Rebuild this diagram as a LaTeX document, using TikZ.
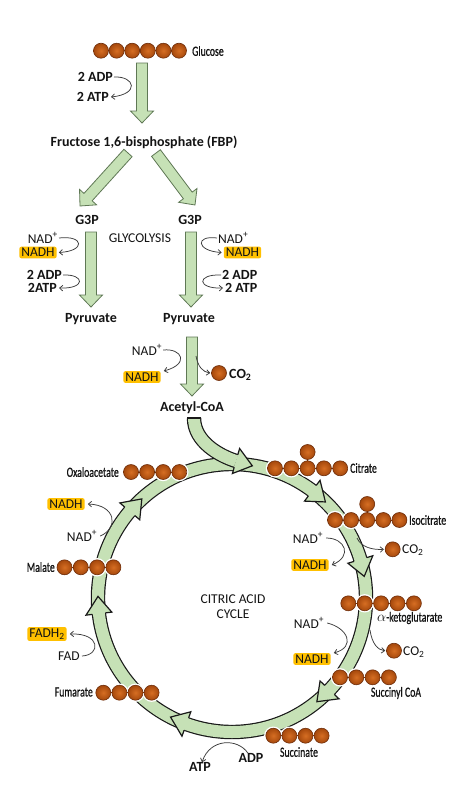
\documentclass[tikz,border=0pt]{standalone}
\usepackage{fontspec}
\setmainfont{Carlito}
\newfontfamily\condfont[FakeStretch=0.7,FakeBold=0.8]{Carlito}
\usetikzlibrary{calc,arrows.meta}
\definecolor{arrfill}{RGB}{198,225,182}
\definecolor{arrline}{RGB}{95,120,85}
\definecolor{ringline}{RGB}{25,25,25}
\definecolor{molin}{RGB}{214,110,35}
\definecolor{molout}{RGB}{165,72,12}
\definecolor{molline}{RGB}{110,45,10}
\definecolor{nadhfill}{RGB}{255,192,0}
\definecolor{txt}{RGB}{20,20,20}
\definecolor{thincol}{RGB}{60,60,60}
\newcommand\blkarrow[2]{%
  \coordinate (bah) at ($(#2)!12pt!(#1)$);
  \filldraw[blockarr] ($(#1)!5.5pt!90:(#2)$) -- ($(bah)!5.5pt!90:(#2)$) -- ($(bah)!11.5pt!90:(#2)$) -- (#2) -- ($(bah)!11.5pt!-90:(#2)$) -- ($(bah)!5.5pt!-90:(#2)$) -- ($(#1)!5.5pt!-90:(#2)$) -- cycle;}
\newcommand\ringhead[1]{%
  \fill[arrfill] ({#1+3.7}:121pt) -- ({#1+3.7}:147pt) -- ({#1-3.7}:134pt) -- cycle;
  \draw[ringedge] ({#1+3.7}:127.4pt) -- ({#1+3.7}:121pt) -- ({#1-3.7}:134pt) -- ({#1+3.7}:147pt) -- ({#1+3.7}:140.6pt);}
\newcommand\halorow[4]{\foreach \i in {1,...,#3}{\fill[white] ({#1+(\i-1)*#4},#2) circle (9.2);}}
\newcommand\ballrow[5]{%
  \draw[bond] (#2,#3) -- ({#2+(#4-1)*#5},#3);
  \foreach \i in {1,...,#4}{\node[ball] (#1-\i) at ({#2+(\i-1)*#5},#3) {};}}
\begin{document}
\begin{tikzpicture}[x=1pt,y=-1pt,
  blockarr/.style={fill=arrfill, draw=arrline, line width=0.8pt, line join=miter},
  ringband/.style={draw=ringline, line width=1.2pt, double=arrfill, double distance=12pt},
  ringedge/.style={draw=ringline, line width=1.2pt, line join=miter},
  bond/.style={draw=molline, line width=1pt},
  ball/.style={circle, minimum size=15pt, inner sep=0pt, draw=molline, line width=0.6pt, inner color=molin, outer color=molout},
  lbl/.style={inner sep=0pt, font=\fontsize{14}{16}\selectfont\bfseries, text=txt},
  reg/.style={inner sep=0pt, font=\fontsize{13.5}{15}\selectfont, text=txt},
  molname/.style={inner sep=0pt, font=\condfont\fontsize{14}{16}\selectfont, text=txt},
  hl/.style={fill=nadhfill, rounded corners=2pt, inner xsep=2pt, inner ysep=1.5pt, font=\fontsize{13.5}{15}\selectfont, text=txt},
  thinarr/.style={draw=thincol, line width=0.75pt, -{Straight Barb[length=3.2pt,width=5.5pt]}}]
\useasboundingbox (0,0) rectangle (474,798);
\fill[white] (0,0) rectangle (474,798);

% ---------- glycolysis block arrows
\coordinate (a1s) at (142,63);  \coordinate (a1e) at (142,123);
\coordinate (a2s) at (128,153); \coordinate (a2e) at (80,206);
\coordinate (a3s) at (156,153); \coordinate (a3e) at (195,205);
\coordinate (a4s) at (91,232);  \coordinate (a4e) at (91,307);
\coordinate (a5s) at (191,232); \coordinate (a5e) at (191,307);
\coordinate (a6s) at (192,337); \coordinate (a6e) at (192,396);
\blkarrow{a1s}{a1e}
\blkarrow{a2s}{a2e}
\blkarrow{a3s}{a3e}
\blkarrow{a4s}{a4e}
\blkarrow{a5s}{a5e}
\blkarrow{a6s}{a6e}

% ---------- citric acid cycle ring
\begin{scope}[shift={(232,598)}]
  \draw[ringband] (0,0) circle (134);
\end{scope}
% acetyl-CoA entry arrow
\coordinate (acs) at (194,418);
\coordinate (ach) at (236,461);
\draw[ringband] (acs) .. controls (194,442) and (220,456) .. (ach);
\draw[ringedge] (187.4,418) -- (200.6,418);
\fill[arrfill] (239.6,448.5) -- (252.3,465.8) -- (232.4,473.5) -- cycle;
\draw[ringedge] (237.8,454.7) -- (239.6,448.5) -- (252.3,465.8) -- (232.4,473.5) -- (234.2,467.3);
\begin{scope}[shift={(232,598)}]
  \ringhead{49.5}
  \ringhead{13}
  \ringhead{-47}
  \ringhead{-113.6}
  \ringhead{-177}
  \ringhead{136}
\end{scope}

% ---------- molecules
\halorow{101}{50.7}{6}{15.6}
\ballrow{glc}{101}{50.7}{6}{15.6}
\halorow{131}{472}{4}{16.1}
\ballrow{oxa}{131}{472}{4}{16.1}
\halorow{275}{468.3}{5}{16.3}
\fill[white] (307.6,452) circle (9.2);
\draw[bond] (307.6,452) -- (307.6,468.3);
\ballrow{cit}{275}{468.3}{5}{16.3}
\node[ball] (cit-top) at (307.6,452) {};
\halorow{335}{520}{5}{16.1}
\fill[white] (367.2,504) circle (9.2);
\draw[bond] (367.2,504) -- (367.2,520);
\ballrow{iso}{335}{520}{5}{16.1}
\node[ball] (iso-top) at (367.2,504) {};
\halorow{348.3}{603.3}{5}{16.4}
\ballrow{akg}{348.3}{603.3}{5}{16.4}
\halorow{340}{677.3}{4}{16.3}
\ballrow{scoa}{340}{677.3}{4}{16.3}
\halorow{273.3}{735.7}{4}{16.1}
\ballrow{suc}{273.3}{735.7}{4}{16.1}
\halorow{103.3}{692.7}{4}{16.1}
\ballrow{fum}{103.3}{692.7}{4}{16.1}
\halorow{64.5}{567.3}{4}{16.3}
\ballrow{mal}{64.5}{567.3}{4}{16.3}
\node[ball] (co2P) at (219,373) {};
\node[ball] (co2I) at (392.7,549.3) {};
\node[ball] (co2K) at (394,650.7) {};

% ---------- texts: glycolysis
\node[molname, anchor=west] (glclab) at (192,51) {Glucose};
\node[lbl, anchor=east] (adp1) at (113,77) {2 ADP};
\node[lbl, anchor=east] (atp1) at (109,97) {2 ATP};
\node[lbl] (fbp) at (144,142) {Fructose 1,6-bisphosphate (FBP)};
\node[lbl] (g3pL) at (87,220) {G3P};
\node[lbl] (g3pR) at (190,220) {G3P};
\node[reg, anchor=east] (nadL) at (58,238) {NAD\textsuperscript{+}};
\node[hl] (nadhL) at (38,252.5) {NADH};
\node[reg] (glyco) at (140,238) {GLYCOLYSIS};
\node[reg, anchor=west] (nadR) at (218,238) {NAD\textsuperscript{+}};
\node[hl] (nadhR) at (242.5,252.5) {NADH};
\node[lbl, anchor=east] (adpL) at (62,275) {2 ADP};
\node[lbl, anchor=east] (atpL) at (57,288) {2ATP};
\node[lbl, anchor=west] (adpR) at (222,275) {2 ADP};
\node[lbl, anchor=west] (atpR) at (225,288) {2 ATP};
\node[lbl] (pyrL) at (91,319) {Pyruvate};
\node[lbl] (pyrR) at (189,319) {Pyruvate};
\node[reg] (nadP) at (147,350) {NAD\textsuperscript{+}};
\node[hl] (nadhP) at (142,377) {NADH};
\node[lbl, anchor=west] (co2Plab) at (229,375) {CO\textsubscript{2}};
\node[lbl] (acoa) at (192,408) {Acetyl-CoA};

% ---------- texts: cycle
\node[molname, anchor=east] (oxalab) at (119,472) {Oxaloacetate};
\node[molname, anchor=west] (citlab) at (350,468) {Citrate};
\node[molname, anchor=west] (isolab) at (409,520) {Isocitrate};
\node[reg] (nadI) at (308,538) {NAD\textsuperscript{+}};
\node[hl] (nadhI) at (310,565) {NADH};
\node[reg, anchor=west] (co2Ilab) at (402,550) {CO\textsubscript{2}};
\node[molname, anchor=west] (akglab) at (377,618) {$\alpha$-ketoglutarate};
\node[reg] (nadK) at (309,623) {NAD\textsuperscript{+}};
\node[hl] (nadhK) at (312,659) {NADH};
\node[reg, anchor=west] (co2Klab) at (403,652) {CO\textsubscript{2}};
\node[molname] (sclab) at (396,693) {Succinyl CoA};
\node[molname] (suclab) at (299,752) {Succinate};
\node[lbl] (adpS) at (251,758) {ADP};
\node[lbl] (atpS) at (200,767) {ATP};
\node[molname, anchor=east] (fumlab) at (93,692) {Fumarate};
\node[hl] (fadh) at (47,634) {FADH\textsubscript{2}};
\node[reg] (fad) at (69,656) {FAD};
\node[molname, anchor=east] (mallab) at (55,567) {Malate};
\node[hl] (nadhM) at (66,504) {NADH};
\node[reg] (nadM) at (82,536) {NAD\textsuperscript{+}};
\node[reg, align=center, font=\fontsize{13.5}{15}\selectfont] (cac) at (233,607) {CITRIC ACID\\CYCLE};

% ---------- thin curved arrows
\draw[thinarr] ([xshift=1pt]adp1.east) .. controls (135,76) and (140,94) .. ([xshift=2pt]atp1.east);
\draw[thinarr] ([xshift=1pt]nadL.east) .. controls (84,235) and (86,251) .. ([xshift=2pt]nadhL.east);
\draw[thinarr] ([xshift=1pt]adpL.east) .. controls (85,274) and (86,289) .. ([xshift=2pt]atpL.east);
\draw[thinarr] ([xshift=-1pt]nadR.west) .. controls (195,235) and (196,251) .. ([xshift=-2pt]nadhR.west);
\draw[thinarr] ([xshift=-1pt]adpR.west) .. controls (196,274) and (197,289) .. ([xshift=-2pt]atpR.west);
\draw[thinarr] ([xshift=1pt]nadP.east) .. controls (182,348) and (190,364) .. ([xshift=3pt]nadhP.north east);
\coordinate (pyrbr) at (196,356);
\draw[thinarr] (pyrbr) .. controls (198,367) and (203,372) .. ([xshift=-1pt]co2P.west);
\draw[thinarr] ([xshift=3pt]nadI.east) .. controls (345,538) and (353,556) .. ([xshift=3pt]nadhI.east);
\coordinate (isobr) at (357,538);
\draw[thinarr] (isobr) .. controls (361,547) and (372,550) .. ([xshift=-1pt]co2I.west);
\draw[thinarr] ([xshift=3pt]nadK.east) .. controls (348,628) and (356,647) .. ([xshift=3pt]nadhK.north east);
\coordinate (akgbr) at (370,630);
\draw[thinarr] (akgbr) .. controls (372,644) and (378,650) .. ([xshift=-1pt]co2K.west);
\draw[thinarr] ([xshift=-3pt]adpS.north) .. controls (238,738) and (210,738) .. ([xshift=2pt]atpS.north);
\draw[thinarr] ([xshift=2pt]fad.east) .. controls (101,655) and (101,633) .. ([xshift=3pt]fadh.east);
\draw[thinarr] ([xshift=3pt]nadM.east) .. controls (119,528) and (116,505) .. ([xshift=3pt]nadhM.east);
\end{tikzpicture}
\end{document}
